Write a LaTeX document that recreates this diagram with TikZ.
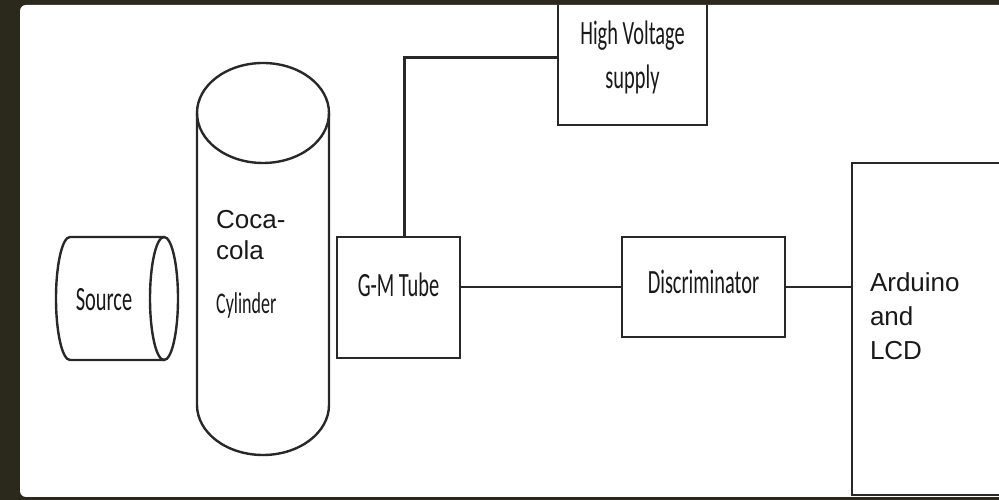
\documentclass[tikz,border=0pt]{standalone}
\usepackage{fontspec}
\setmainfont{Liberation Sans}
\newfontfamily\narrowfont[FakeStretch=0.6]{Carlito}
\usepackage{tikz}
\usetikzlibrary{positioning}

\definecolor{bgdark}{RGB}{42,41,27}
\definecolor{linegray}{RGB}{40,40,40}
\definecolor{textgray}{RGB}{25,25,25}

\begin{document}
\begin{tikzpicture}[x=1pt, y=1pt,
    wire/.style={draw=linegray, line width=2.4pt},
    box/.style={wire, rectangle, inner sep=0pt},
    calib/.style={font=\narrowfont\fontsize{34}{44}\selectfont, text=textgray},
    calibsmall/.style={font=\narrowfont\fontsize{30}{32}\selectfont, text=textgray},
    arialtxt/.style={font=\fontsize{26}{31}\selectfont, text=textgray, align=left, inner sep=0pt}]
    \useasboundingbox (0,0) rectangle (999,500);
    \fill[bgdark] (0,0) rectangle (999,500);
    \fill[white, rounded corners=6pt] (20,3) rectangle (1015,495);
    \begin{scope}
    \clip[rounded corners=6pt] (20,3) rectangle (1015,495);
    % source, lying cylinder
    \draw[wire] (164,263) -- (70,263) arc[start angle=90, end angle=270, x radius=14, y radius=61.5] -- (164,140);
    \draw[wire] (164,201.5) ellipse[x radius=14, y radius=61.5];
    \node[calib] (srctext) at (104,200) {Source};
    % coca-cola cylinder
    \draw[wire] (197,387) -- (197,95) arc[start angle=180, end angle=360, x radius=66, y radius=50] -- (329,387);
    \draw[wire] (263,387) ellipse[x radius=66, y radius=50];
    \node[arialtxt, anchor=north west] (cocatext) at (216,290) {Coca-\\cola};
    \node[calibsmall, inner sep=0pt, below=33pt of cocatext.south west, anchor=north west] (cyltext) {Cylinder};
    % blocks
    \node[box, calib, minimum width=123pt, minimum height=121pt, text height=22pt, text depth=24pt] (gm) at (398.5,202.5) {G-M Tube};
    \node[box, calib, minimum width=149pt, minimum height=135pt, align=center] (hv) at (632.5,442.5) {High Voltage\\supply};
    \node[box, calib, minimum width=163pt, minimum height=100pt, text height=22pt, text depth=8pt] (disc) at (703.5,213) {Discriminator};
    \node[box, arialtxt, font=\fontsize{26}{34}\selectfont, minimum width=170pt, minimum height=332pt, text width=134pt, text height=19pt, text depth=94pt] (ard) at (937,171) {Arduino\\and\\LCD};
    % connections
    \draw[wire] ([xshift=6pt]gm.north) |- (hv.west);
    \draw[wire] (gm.east |- disc.west) -- (disc.west);
    \draw[wire] (disc.east) -- (disc.east -| ard.west);
    \end{scope}
\end{tikzpicture}
\end{document}
